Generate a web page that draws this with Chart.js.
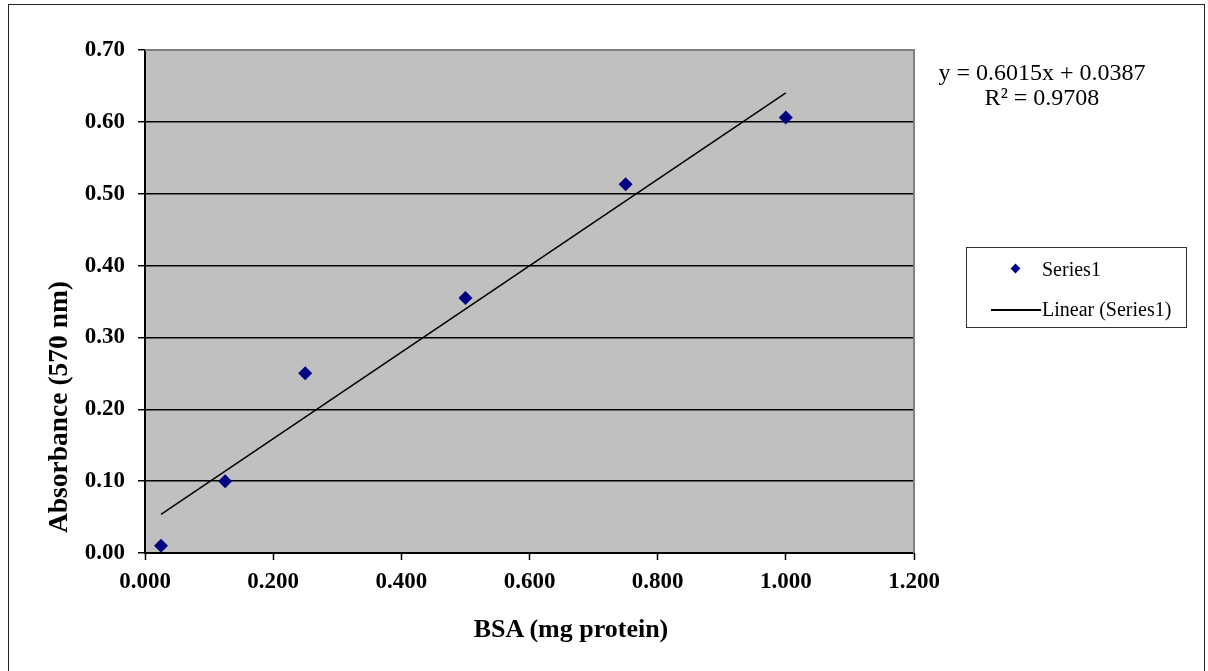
<!DOCTYPE html>
<html>
<head>
<meta charset="utf-8">
<script src="https://cdn.jsdelivr.net/npm/chart.js@4"></script>
<style>
  html, body { margin: 0; padding: 0; background: #fff; }
  body { width: 1208px; height: 671px; position: relative; overflow: hidden; font-family: "Liberation Serif", "Times New Roman", serif; }
  #frame { position: absolute; left: 8px; top: 4px; width: 1197px; height: 700px; border: 1.5px solid #222; box-sizing: border-box; }
  #wrap { position: absolute; left: 0; top: 0; width: 1208px; height: 671px; }
  .axis-title { position: absolute; font-weight: bold; font-size: 26px; color: #000; white-space: nowrap; }
  #xTitle { left: 571px; top: 629px; transform: translate(-50%, -50%); }
  #yTitle { left: 58px; top: 407px; font-size: 27.5px; transform: translate(-50%, -50%) rotate(-90deg); }
  #equation { position: absolute; left: 1042px; top: 60px; transform: translateX(-50%); text-align: center; font-size: 24px; line-height: 25px; white-space: nowrap; }
  #legend { position: absolute; left: 966px; top: 247px; width: 221px; height: 81px; border: 1.5px solid #333; box-sizing: border-box; font-size: 20px; }
  .leg-row { position: absolute; left: 0; height: 24px; line-height: 24px; white-space: nowrap; }
  .leg-text { position: absolute; left: 75px; }
  .leg-diamond { position: absolute; left: 45px; top: 8px; width: 7px; height: 7px; background: #000080; transform: rotate(45deg); }
  .leg-line { position: absolute; left: 24px; top: 12px; width: 50px; height: 1.5px; background: #000; }
</style>
</head>
<body>
<div id="wrap"><canvas id="chart" width="1208" height="671"></canvas></div>
<div id="frame"></div>
<div class="axis-title" id="xTitle"></div>
<div class="axis-title" id="yTitle"></div>
<div id="equation"></div>
<div id="legend">
  <div class="leg-row" style="top:9px"><span class="leg-diamond"></span><span class="leg-text" id="legSeries"></span></div>
  <div class="leg-row" style="top:49px"><span class="leg-line"></span><span class="leg-text" id="legTrend"></span></div>
</div>
<script>
// Courbe étalon BSA
const bsa = [0.025, 0.125, 0.25, 0.5, 0.75, 1.0];
const absorbance = [0.01, 0.10, 0.25, 0.355, 0.513, 0.606];

// Régression linéaire (valeurs affichées)
const slope = 0.6015;
const intercept = 0.0387;
const rSquared = 0.9708;

// Axes
const xRange = [0, 1.2];
const xStep = 0.2;
const yRange = [0, 0.7];
const yStep = 0.1;

const seriesName = 'Series1';
const trendName = 'Linear (Series1)';
const xLabel = 'BSA (mg protein)';
const yLabel = 'Absorbance (570 nm)';

document.getElementById('xTitle').textContent = xLabel;
document.getElementById('yTitle').textContent = yLabel;
document.getElementById('legSeries').textContent = seriesName;
document.getElementById('legTrend').textContent = trendName;
document.getElementById('equation').innerHTML =
  `y = ${slope}x + ${intercept}<br>R² = ${rSquared}`;

const points = bsa.map((x, i) => ({ x: x, y: absorbance[i] }));
const xFirst = bsa[0], xLast = bsa[bsa.length - 1];
const trend = [
  { x: xFirst, y: slope * xFirst + intercept },
  { x: xLast, y: slope * xLast + intercept }
];

// fond gris + bordure haut/droite de la zone de tracé
const plotArea = {
  id: 'plotArea',
  beforeDraw(chart) {
    const a = chart.chartArea, c = chart.ctx;
    c.save();
    c.fillStyle = '#c0c0c0';
    c.fillRect(a.left, a.top, a.right - a.left, a.bottom - a.top);
    c.restore();
  },
  afterDatasetsDraw(chart) {
    const a = chart.chartArea, c = chart.ctx;
    c.save();
    c.strokeStyle = '#808080';
    c.lineWidth = 2;
    c.beginPath();
    c.moveTo(a.left, a.top);
    c.lineTo(a.right, a.top);
    c.lineTo(a.right, a.bottom);
    c.stroke();
    c.restore();
  }
};

const tickFont = { family: '"Liberation Serif", "Times New Roman", serif', size: 23, weight: 'bold' };

new Chart(document.getElementById('chart').getContext('2d'), {
  type: 'scatter',
  data: {
    datasets: [
      {
        label: seriesName,
        data: points,
        pointStyle: 'rectRot',
        pointRadius: 7,
        pointBackgroundColor: '#000080',
        pointBorderColor: '#000080',
        pointBorderWidth: 0,
        showLine: false
      },
      {
        label: trendName,
        type: 'line',
        data: trend,
        borderColor: '#000',
        borderWidth: 1.5,
        pointRadius: 0,
        fill: false
      }
    ]
  },
  options: {
    responsive: false,
    animation: false,
    events: [],
    layout: { padding: { left: 0, top: 50, right: 294, bottom: 78 } },
    plugins: { legend: { display: false }, tooltip: { enabled: false } },
    scales: {
      x: {
        type: 'linear',
        min: xRange[0],
        max: xRange[1],
        afterFit(scale) { scale.height = 40; },
        ticks: {
          stepSize: xStep,
          padding: 8,
          color: '#000',
          font: tickFont,
          callback: v => v.toFixed(3)
        },
        grid: { drawOnChartArea: false, tickLength: 7, tickColor: '#000', tickWidth: 1.5 },
        border: { color: '#000', width: 2 }
      },
      y: {
        type: 'linear',
        min: yRange[0],
        max: yRange[1],
        afterFit(scale) { scale.width = 145; },
        ticks: {
          stepSize: yStep,
          padding: 13,
          color: '#000',
          font: tickFont,
          callback: v => v.toFixed(2)
        },
        grid: {
          color: ctx => (ctx.tick && Math.abs(ctx.tick.value - yRange[1]) < 1e-9) ? '#808080' : '#000',
          lineWidth: 1.5,
          tickLength: 7,
          tickColor: '#000',
          tickWidth: 1.5
        },
        border: { color: '#000', width: 2 }
      }
    }
  },
  plugins: [plotArea]
});
</script>
</body>
</html>
